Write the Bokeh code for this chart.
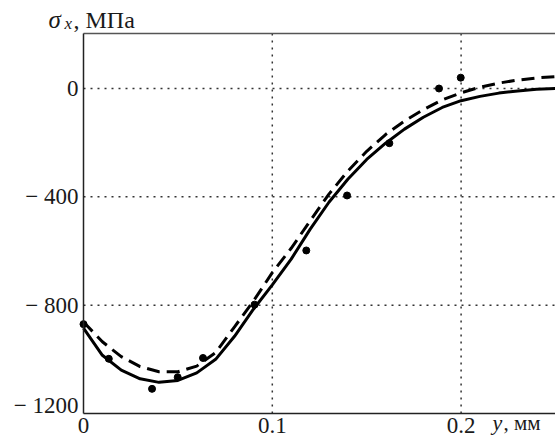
from bokeh.plotting import figure
from bokeh.models import FixedTicker, Label, Range1d, LinearAxis
from bokeh.embed import file_html
from bokeh.resources import INLINE

# Curve samples (y in mm, sigma_x in MPa)
x_curve = [0.000, 0.010, 0.020, 0.030, 0.040, 0.050, 0.060, 0.070, 0.080, 0.090,
           0.100, 0.110, 0.120, 0.130, 0.140, 0.150, 0.160, 0.170, 0.180, 0.190,
           0.200, 0.210, 0.220, 0.230, 0.240, 0.250]
solid_y = [-885, -985, -1040, -1072, -1085, -1078, -1050, -1000, -915, -815,
           -725, -630, -520, -420, -335, -262, -202, -150, -106, -70,
           -45, -29, -17, -9, -3, 0]
dashed_y = [-862, -935, -990, -1027, -1046, -1046, -1025, -975, -880, -785,
            -680, -590, -489, -390, -305, -232, -170, -120, -78, -42,
            -16, 5, 20, 31, 39, 44]

# Measured points
pts_x = [0.000, 0.0134, 0.0363, 0.0499, 0.0633, 0.0906, 0.118, 0.1396, 0.162, 0.1883, 0.1998]
pts_y = [-870, -998, -1109, -1066, -995, -798, -598, -395, -202, 0, 40]

y_ticks = [0, -400, -800]
y_tick_labels = ["0", "− 400", "− 800"]
y_bottom_label = "− 1200"
x_ticks = [0, 0.1, 0.2]
x_tick_labels = ["0", "0.1", "0.2"]
x_grid = [0.1, 0.2]
y_grid = [0, -400, -800]
x_lo, x_hi = 0.0, 0.25
y_lo, y_hi = -1200, 203

FONT = "Liberation Serif"
TXT = "#1a1a1a"

W, H = 555, 436
L, T, B = 83, 33, 413           # plot box edges in pixels
sx = (x_hi - x_lo) / (W - L)     # data per px
sy = (0 - y_lo) / (B - 88)       # data per px (0 sits at px 88)
xr = Range1d(x_lo - L * sx, x_hi)
yr = Range1d(y_lo - (H - B) * sy, y_lo + B * sy)
DY = 7  # label baseline correction (px)

def px_x(px):
    return x_lo + (px - L) * sx

def px_y(py):
    return y_lo + (B - (py - DY)) * sy

p = figure(width=W, height=H, output_backend="svg", toolbar_location=None,
           x_range=xr, y_range=yr,
           min_border_left=0, min_border_right=0, min_border_top=0,
           min_border_bottom=0)
p.background_fill_color = "white"
p.border_fill_color = "white"
p.outline_line_color = None
p.xgrid.visible = False
p.ygrid.visible = False

for ax in (p.xaxis[0], p.yaxis[0]):
    ax.axis_line_color = "#222222"
    ax.axis_line_width = 1.5
    ax.major_tick_line_color = None
    ax.minor_tick_line_color = None
    ax.major_tick_out = 0
    ax.major_tick_in = 0
    ax.minor_tick_out = 0
    ax.major_label_text_font = FONT
    ax.major_label_text_font_size = "23px"
    ax.major_label_text_color = TXT

p.xaxis.ticker = FixedTicker(ticks=x_ticks)
p.xaxis.major_label_overrides = {k: v for k, v in zip(x_ticks, x_tick_labels)}
p.xaxis.major_label_standoff = 4
p.xaxis.fixed_location = y_lo
p.xaxis.bounds = (x_lo, x_hi)
p.yaxis.ticker = FixedTicker(ticks=y_ticks)
p.yaxis.major_label_overrides = {k: v for k, v in zip(y_ticks, y_tick_labels)}
p.yaxis.major_label_standoff = 5
p.yaxis.fixed_location = x_lo
p.yaxis.bounds = (y_lo, y_hi)

top = LinearAxis(fixed_location=y_hi, bounds=(x_lo, x_hi), ticker=FixedTicker(ticks=[]),
                 axis_line_color="#555555", axis_line_width=1.5,
                 major_tick_line_color=None, minor_tick_line_color=None,
                 major_label_text_font_size="0px")
p.add_layout(top, "above")

# dotted grid inside the plot box
p.segment(x0=x_grid, y0=[y_lo] * len(x_grid), x1=x_grid, y1=[y_hi] * len(x_grid),
          line_color="#333333", line_width=1.5, line_dash="2 5")
p.segment(x0=[x_lo] * len(y_grid), y0=y_grid, x1=[x_hi] * len(y_grid), y1=y_grid,
          line_color="#333333", line_width=1.5, line_dash="2 5")

p.line(x_curve, dashed_y, line_color="black", line_width=3, line_dash="13 7")
p.line(x_curve, solid_y, line_color="black", line_width=3)
p.scatter(pts_x, pts_y, size=7, color="black")

# bottom y tick label, raised above the x axis labels
p.add_layout(Label(x=px_x(78), y=px_y(412), text=y_bottom_label, text_font=FONT,
                   text_font_size="23px", text_color=TXT, text_align="right",
                   text_baseline="alphabetic"))

# axis titles
p.add_layout(Label(x=px_x(48), y=px_y(26), text="σ", text_font=FONT, text_font_style="italic",
                   text_font_size="25px", text_color=TXT, text_baseline="alphabetic"))
p.add_layout(Label(x=px_x(64), y=px_y(30), text="x", text_font=FONT, text_font_style="italic",
                   text_font_size="17px", text_color=TXT, text_baseline="alphabetic"))
p.add_layout(Label(x=px_x(73), y=px_y(26), text=", МПа", text_font=FONT,
                   text_font_size="24px", text_color=TXT, text_baseline="alphabetic"))
p.add_layout(Label(x=px_x(492), y=px_y(429), text="y", text_font=FONT, text_font_style="italic",
                   text_font_size="22px", text_color=TXT, text_baseline="alphabetic"))
p.add_layout(Label(x=px_x(503), y=px_y(429), text=", мм", text_font=FONT,
                   text_font_size="21px", text_color=TXT, text_baseline="alphabetic"))

open("out.html", "w").write(file_html(p, INLINE))
